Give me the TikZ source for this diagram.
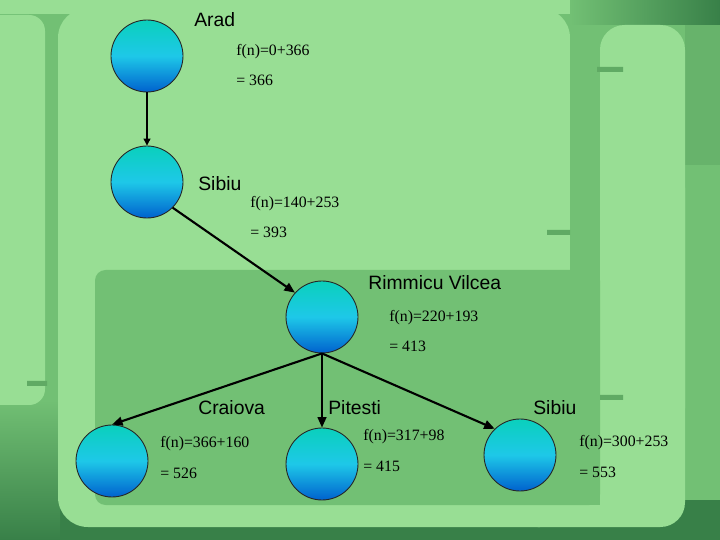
\documentclass[tikz,border=0pt]{standalone}
\usepackage{fontspec}
\setmainfont{Liberation Serif}
\setsansfont{Liberation Sans}
\usetikzlibrary{arrows.meta,positioning}

\definecolor{bgdark}{RGB}{56,128,72}
\definecolor{bgmid}{RGB}{114,192,116}
\definecolor{bglight}{RGB}{152,222,148}
\definecolor{bgdash}{RGB}{96,170,100}
\definecolor{nodetop}{RGB}{10,208,188}
\definecolor{nodemid}{RGB}{30,200,232}
\definecolor{nodebot}{RGB}{0,98,206}

\tikzset{
  city/.style={circle, draw=black!85, line width=0.5pt, minimum size=1.44cm, inner sep=0pt,
    top color=nodetop, bottom color=nodebot, middle color=nodemid},
  cityname/.style={anchor=west, inner sep=0pt, font=\sffamily\fontsize{11}{13}\selectfont},
  cost/.style={anchor=west, inner sep=0pt, font=\fontsize{9}{11}\selectfont},
  edge/.style={line width=1.2pt, -{Triangle[length=6pt,width=5pt]}},
  thinedge/.style={line width=0.6pt, -{Triangle[length=4pt,width=4pt]}},
}

\begin{document}
\begin{tikzpicture}[x=0.02cm,y=-0.02cm]
        \useasboundingbox (0,0) rectangle (720,540);

	% background
	\begin{scope}
	\fill[bgdark] (0,0) rectangle (720,540);
	\fill[bgmid] (0,0) rectangle (720,500);
	\shade[top color=bgmid, bottom color=bgdark] (0,400) rectangle (60,540);
	\shade[left color=bgmid, right color=bgdark] (570,0) rectangle (720,25);
	\fill[bgmid!80!bgdark] (685,25) rectangle (720,165);
	\fill[bglight] (0,0) rectangle (570,14);
	\fill[bglight, rounded corners=9pt] (-20,15) rectangle (45,405);
	\fill[bglight, rounded corners=17pt] (58,8) rectangle (570,527);
	\fill[bglight, rounded corners=14pt] (513,163) rectangle (685,527);
	\fill[bglight, rounded corners=14pt] (600,25) rectangle (685,433);
	\fill[bgmid, rounded corners=6pt] (95,270) rectangle (600,505);
	\fill[bgmid] (570,25) rectangle (600,505);
	\fill[bgdash] (27,381) rectangle (47,386)
	              (597,67) rectangle (623,72)
	              (547,230) rectangle (570,235)
	              (600,395) rectangle (623,400);
	\end{scope}

	% search tree
	\node[city] (ar) at (147,56) {};
	\node[city] (sb1) at (147,182) {};
	\node[city] (rv) at (322,317) {};
	\node[city] (cr) at (112,461) {};
	\node[city] (pt) at (322,464) {};
	\node[city] (sb2) at (520,455) {};

	\node[cityname] (lar) at (194,20) {Arad};
	\node[cost] (far) at (236,52) {f(n)=0+366};
	\node[cost] (ear) at (236,80) {= 366};

	\node[cityname] (lsb1) at (198,184) {Sibiu};
	\node[cost] (fsb1) at (250,204) {f(n)=140+253};
	\node[cost] (esb1) at (250,232) {= 393};

	\node[cityname] (lrv) at (368,283) {Rimmicu Vilcea};
	\node[cost] (frv) at (389,318) {f(n)=220+193};
	\node[cost] (erv) at (389,346) {= 413};

	\node[cityname] (lcr) at (198,408) {Craiova};
	\node[cost] (fcr) at (160,444) {f(n)=366+160};
	\node[cost] (ecr) at (160,473) {= 526};

	\node[cityname] (lpt) at (328,408) {Pitesti};
	\node[cost] (fpt) at (363,437) {f(n)=317+98};
	\node[cost] (ept) at (363,466) {= 415};

	\node[cityname] (lsb2) at (533,408) {Sibiu};
	\node[cost] (fsb2) at (579,443) {f(n)=300+253};
	\node[cost] (esb2) at (579,472) {= 553};

	\draw[thinedge] (ar) -- (sb1);
	\draw[edge] (sb1.-45) -- (rv.138);
	\draw[edge] (rv.south) -- (cr.north);
	\draw[edge] (rv.south) -- (pt.north);
	\draw[edge] (rv.south) -- (sb2.134);

    \end{tikzpicture}
\end{document}
